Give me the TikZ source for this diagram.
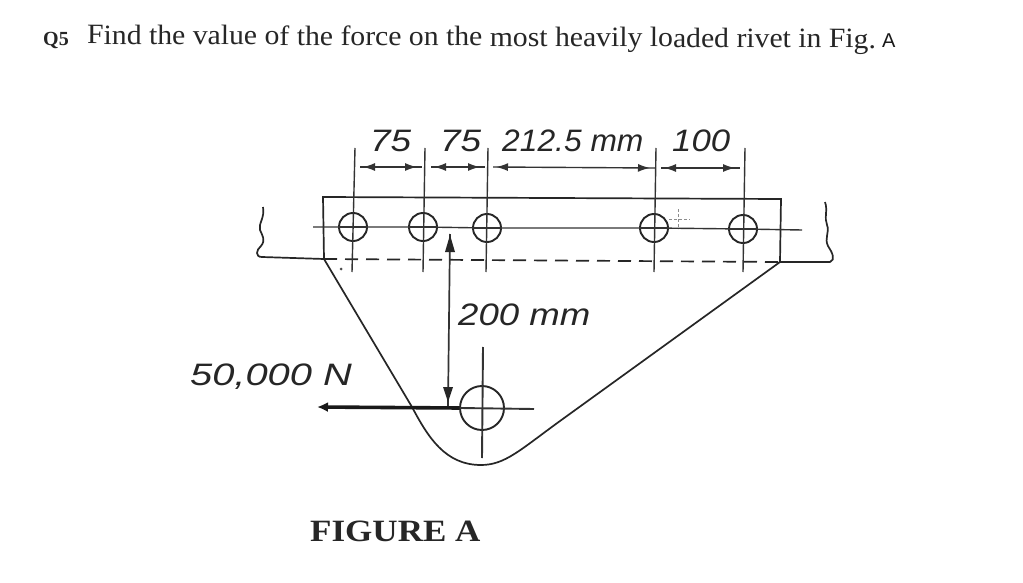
\documentclass[tikz,border=0pt]{standalone}
\usepackage{graphicx}
\usepackage{fontspec}
\setmainfont{Liberation Serif}
\setsansfont{Liberation Sans}
\usetikzlibrary{arrows.meta,decorations.markings}
\newcommand{\fs}[1]{\fontsize{#1}{#1}\selectfont}
\tikzset{
  ink/.style={draw=black!85,line width=1.7pt},
  thin ink/.style={draw=black!80,line width=1.4pt},
  rivet/.style={circle,draw=black!85,line width=1.9pt,minimum size=28pt,inner sep=0pt,fill=none},
  dimtext/.style={font=\sffamily\itshape\fs{31},text=black!85,inner sep=0pt,anchor=base west},
  dimline/.style={thin ink,postaction={decorate},decoration={markings,
     mark=at position 15pt with {\arrow{Latex[length=12pt,width=8pt,reversed]}},
     mark=at position -5pt with {\arrow{Latex[length=12pt,width=8pt]}}}},
}
\begin{document}
\begin{tikzpicture}[x=1pt,y=-1pt]
\useasboundingbox (0,0) rectangle (1023,583);
\fill[white] (0,0) rectangle (1023,583);
% rivets
\node[rivet] (r1) at (353,227) {};
\node[rivet] (r2) at (423,227) {};
\node[rivet] (r3) at (487,228) {};
\node[rivet] (r4) at (654,228) {};
\node[rivet] (r5) at (743,229) {};
\node[rivet,minimum size=44pt] (big) at (482,408) {};
% plate outline
\coordinate (tl) at (323,197);
\coordinate (tr) at (781,199);
\coordinate (bl) at (324,259);
\coordinate (br) at (780,262);
\draw[ink] (bl) -- (tl) -- (tr) -- (br);
\draw[ink,dashed,dash pattern=on 13pt off 8pt] (bl) -- (br);
% lugs
\draw[ink] (bl) -- (262,257) .. controls (255,257) and (256,250) .. (261,246)
  .. controls (266,240) and (262,235) .. (260,230)
  .. controls (258,224) and (265,218) .. (263,207);
\draw[ink] (br) -- (830,262) .. controls (836,260) and (832,252) .. (828,246)
  .. controls (824,238) and (830,232) .. (827,225)
  .. controls (824,218) and (828,210) .. (825,202);
% gusset
\draw[ink] (bl) -- (412,407) .. controls (428,437) and (445,465) .. (481,465)
  .. controls (505,465) and (520,450) .. (560,421) -- (br);
% centre lines
\draw[thin ink] (313,227) -- (r1) -- (r2) -- (r3) -- (r4) -- (r5) -- (802,230);
\foreach \r/\x/\xb in {r1/355/352,r2/425/423,r3/488/486,r4/656/654,r5/745/743}{
  \draw[thin ink] (\x,148) -- (\xb,272);
  \draw[thin ink] (\r.west) -- (\r.east);
}
% big rivet centre lines
\draw[thin ink,line width=1.9pt] (483,347) -- (482,458);
\draw[thin ink,line width=1.9pt] (460,408) -- (534,409);
% force
\draw[line width=3.6pt,black!90,-{Latex[length=11pt,width=10pt]}] (big.west) -- (317,407);
% dimension 200
\coordinate (d1) at (450,234);
\coordinate (d2) at (448,406);
\draw[thin ink,line width=1.7pt] (d1) -- (d2);
\draw[fill=black!85,draw=none] (450,235) -- (445,252) -- (455,252) -- cycle;
\draw[fill=black!85,draw=none] (448,402) -- (443,387) -- (453,387) -- cycle;
% dimension arrows
\coordinate (a1) at (360,167); \coordinate (a2) at (422,167);
\coordinate (a3) at (431,167); \coordinate (a4) at (485,167);
\coordinate (a5) at (493,167); \coordinate (a6) at (655,168);
\coordinate (a7) at (661,168); \coordinate (a8) at (740,168);
\draw[dimline] (a1) -- (a2);
\draw[dimline] (a3) -- (a4);
\draw[dimline] (a5) -- (a6);
\draw[dimline] (a7) -- (a8);
% stray marks
\draw[black!45,line width=1pt,dashed,dash pattern=on 3pt off 2pt] (678,209) -- (678,229) (669,219) -- (690,219);
\fill[black!70] (341,269) circle (1.5pt);
% texts
\node[anchor=base west,inner sep=0pt,font=\bfseries\fs{20},text=black!85] (q) at (43,46) {Q5};
\node[anchor=base west,inner sep=0pt,font=\fs{28},text=black!85,rotate=-0.3] (title) at (87,44) {\scalebox{1.061}[1]{Find the value of the force on the most heavily loaded rivet in Fig.}};
\node[anchor=base west,inner sep=0pt,font=\sffamily\fs{20},text=black!90] (titleA) at (882,48) {A};
\node[dimtext] (t1) at (370,152) {\scalebox{1.19}[1]{75}};
\node[dimtext] (t2) at (440,152) {\scalebox{1.19}[1]{75}};
\node[dimtext] (t3) at (502,152) {\scalebox{1.025}[1]{212.5 mm}};
\node[dimtext] (t4) at (672,152) {\scalebox{1.12}[1]{100}};
\node[dimtext] (t5) at (458,325) {\scalebox{1.18}[1]{200 mm}};
\node[dimtext] (t6) at (190,385) {\scalebox{1.285}[1]{50,000 N}};
\node[anchor=base west,inner sep=0pt,font=\bfseries\fs{31},text=black!85] (fig) at (310,541) {\scalebox{1.13}[1]{FIGURE A}};
\end{tikzpicture}
\end{document}
